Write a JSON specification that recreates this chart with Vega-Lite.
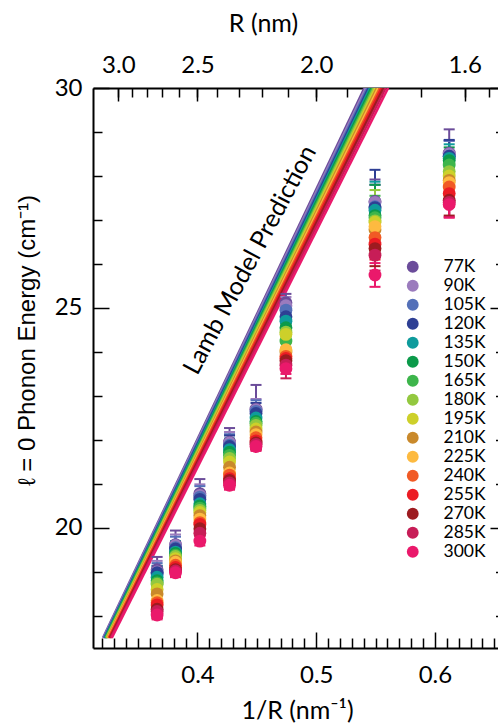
{
"$schema": "https://vega.github.io/schema/vega-lite/v6.json",
"autosize": "none",
"padding": {"left": 93, "top": 88, "right": 0, "bottom": 76},
"width": 405,
"height": 560,
"background": "white",
"config": {
  "view": {"stroke": null},
  "axis": {"grid": false, "tickColor": "black", "domainColor": "black", "labelColor": "black", "titleColor": "black", "tickWidth": 1.5, "domainWidth": 2, "labelFont": "Lato", "labelFontSize": 24, "titleFont": "Lato", "titleFontSize": 25, "titleFontWeight": "normal", "labelFlush": false, "labelOverlap": false},
  "legend": {"labelOffset": 22, "labelFont": "Lato", "labelFontSize": 17.5, "labelColor": "black"}
},
"datasets": {
  "lamb": [
    {"T": "77K", "x": 0.3205, "y": 17.5}, {"T": "77K", "x": 0.5406, "y": 30},
    {"T": "90K", "x": 0.3209, "y": 17.5}, {"T": "90K", "x": 0.5418, "y": 30},
    {"T": "105K", "x": 0.3213, "y": 17.5}, {"T": "105K", "x": 0.5430, "y": 30},
    {"T": "120K", "x": 0.3217, "y": 17.5}, {"T": "120K", "x": 0.5441, "y": 30},
    {"T": "135K", "x": 0.3221, "y": 17.5}, {"T": "135K", "x": 0.5453, "y": 30},
    {"T": "150K", "x": 0.3225, "y": 17.5}, {"T": "150K", "x": 0.5464, "y": 30},
    {"T": "165K", "x": 0.3229, "y": 17.5}, {"T": "165K", "x": 0.5476, "y": 30},
    {"T": "180K", "x": 0.3233, "y": 17.5}, {"T": "180K", "x": 0.5487, "y": 30},
    {"T": "195K", "x": 0.3237, "y": 17.5}, {"T": "195K", "x": 0.5499, "y": 30},
    {"T": "210K", "x": 0.3241, "y": 17.5}, {"T": "210K", "x": 0.5511, "y": 30},
    {"T": "225K", "x": 0.3246, "y": 17.5}, {"T": "225K", "x": 0.5523, "y": 30},
    {"T": "240K", "x": 0.3251, "y": 17.5}, {"T": "240K", "x": 0.5536, "y": 30},
    {"T": "255K", "x": 0.3257, "y": 17.5}, {"T": "255K", "x": 0.5550, "y": 30},
    {"T": "270K", "x": 0.3263, "y": 17.5}, {"T": "270K", "x": 0.5566, "y": 30},
    {"T": "285K", "x": 0.3270, "y": 17.5}, {"T": "285K", "x": 0.5585, "y": 30},
    {"T": "300K", "x": 0.3278, "y": 17.5}, {"T": "300K", "x": 0.5606, "y": 30}
  ],
  "pts": [
    {"x": 0.366, "T": "77K", "y": 19.05, "lo": 18.76, "hi": 19.34},
    {"x": 0.366, "T": "90K", "y": 19.00, "lo": 18.75, "hi": 19.25},
    {"x": 0.366, "T": "105K", "y": 18.95, "lo": 18.70, "hi": 19.20},
    {"x": 0.366, "T": "120K", "y": 18.98, "lo": 18.82, "hi": 19.14},
    {"x": 0.366, "T": "135K", "y": 18.88, "lo": 18.63, "hi": 19.13},
    {"x": 0.366, "T": "150K", "y": 18.80, "lo": 18.55, "hi": 19.05},
    {"x": 0.366, "T": "165K", "y": 18.75, "lo": 18.50, "hi": 19.00},
    {"x": 0.366, "T": "180K", "y": 18.72, "lo": 18.47, "hi": 18.97},
    {"x": 0.366, "T": "195K", "y": 18.60, "lo": 18.35, "hi": 18.85},
    {"x": 0.366, "T": "210K", "y": 18.50, "lo": 18.25, "hi": 18.75},
    {"x": 0.366, "T": "225K", "y": 18.35, "lo": 18.10, "hi": 18.60},
    {"x": 0.366, "T": "240K", "y": 18.30, "lo": 18.05, "hi": 18.55},
    {"x": 0.366, "T": "255K", "y": 18.25, "lo": 18.00, "hi": 18.50},
    {"x": 0.366, "T": "270K", "y": 18.15, "lo": 17.95, "hi": 18.35},
    {"x": 0.366, "T": "285K", "y": 18.10, "lo": 17.95, "hi": 18.25},
    {"x": 0.366, "T": "300K", "y": 18.02, "lo": 17.92, "hi": 18.12},

    {"x": 0.3815, "T": "77K", "y": 19.62, "lo": 19.30, "hi": 19.94},
    {"x": 0.3815, "T": "90K", "y": 19.60, "lo": 19.35, "hi": 19.85},
    {"x": 0.3815, "T": "105K", "y": 19.55, "lo": 19.30, "hi": 19.80},
    {"x": 0.3815, "T": "120K", "y": 19.52, "lo": 19.37, "hi": 19.67},
    {"x": 0.3815, "T": "135K", "y": 19.45, "lo": 19.20, "hi": 19.70},
    {"x": 0.3815, "T": "150K", "y": 19.42, "lo": 19.17, "hi": 19.67},
    {"x": 0.3815, "T": "165K", "y": 19.38, "lo": 19.13, "hi": 19.63},
    {"x": 0.3815, "T": "180K", "y": 19.35, "lo": 19.10, "hi": 19.60},
    {"x": 0.3815, "T": "195K", "y": 19.30, "lo": 19.05, "hi": 19.55},
    {"x": 0.3815, "T": "210K", "y": 19.25, "lo": 19.00, "hi": 19.50},
    {"x": 0.3815, "T": "225K", "y": 19.22, "lo": 18.97, "hi": 19.47},
    {"x": 0.3815, "T": "240K", "y": 19.15, "lo": 18.95, "hi": 19.35},
    {"x": 0.3815, "T": "255K", "y": 19.10, "lo": 18.92, "hi": 19.28},
    {"x": 0.3815, "T": "270K", "y": 19.05, "lo": 18.90, "hi": 19.20},
    {"x": 0.3815, "T": "285K", "y": 19.02, "lo": 18.90, "hi": 19.14},
    {"x": 0.3815, "T": "300K", "y": 18.98, "lo": 18.88, "hi": 19.08},

    {"x": 0.402, "T": "77K", "y": 20.78, "lo": 20.45, "hi": 21.11},
    {"x": 0.402, "T": "90K", "y": 20.74, "lo": 20.49, "hi": 20.99},
    {"x": 0.402, "T": "105K", "y": 20.70, "lo": 20.45, "hi": 20.95},
    {"x": 0.402, "T": "120K", "y": 20.65, "lo": 20.45, "hi": 20.82},
    {"x": 0.402, "T": "135K", "y": 20.55, "lo": 20.30, "hi": 20.80},
    {"x": 0.402, "T": "150K", "y": 20.50, "lo": 20.25, "hi": 20.75},
    {"x": 0.402, "T": "165K", "y": 20.45, "lo": 20.20, "hi": 20.70},
    {"x": 0.402, "T": "180K", "y": 20.40, "lo": 20.15, "hi": 20.65},
    {"x": 0.402, "T": "195K", "y": 20.35, "lo": 20.10, "hi": 20.60},
    {"x": 0.402, "T": "210K", "y": 20.28, "lo": 20.03, "hi": 20.53},
    {"x": 0.402, "T": "225K", "y": 20.20, "lo": 19.95, "hi": 20.45},
    {"x": 0.402, "T": "240K", "y": 20.12, "lo": 19.87, "hi": 20.37},
    {"x": 0.402, "T": "255K", "y": 20.08, "lo": 19.83, "hi": 20.33},
    {"x": 0.402, "T": "270K", "y": 19.98, "lo": 19.73, "hi": 20.23},
    {"x": 0.402, "T": "285K", "y": 19.88, "lo": 19.68, "hi": 20.08},
    {"x": 0.402, "T": "300K", "y": 19.70, "lo": 19.60, "hi": 19.80},

    {"x": 0.427, "T": "77K", "y": 21.95, "lo": 21.63, "hi": 22.27},
    {"x": 0.427, "T": "90K", "y": 21.93, "lo": 21.68, "hi": 22.18},
    {"x": 0.427, "T": "105K", "y": 21.88, "lo": 21.63, "hi": 22.13},
    {"x": 0.427, "T": "120K", "y": 21.85, "lo": 21.60, "hi": 22.10},
    {"x": 0.427, "T": "135K", "y": 21.78, "lo": 21.53, "hi": 22.03},
    {"x": 0.427, "T": "150K", "y": 21.72, "lo": 21.47, "hi": 21.97},
    {"x": 0.427, "T": "165K", "y": 21.65, "lo": 21.40, "hi": 21.90},
    {"x": 0.427, "T": "180K", "y": 21.58, "lo": 21.33, "hi": 21.83},
    {"x": 0.427, "T": "195K", "y": 21.50, "lo": 21.25, "hi": 21.75},
    {"x": 0.427, "T": "210K", "y": 21.38, "lo": 21.13, "hi": 21.63},
    {"x": 0.427, "T": "225K", "y": 21.25, "lo": 21.00, "hi": 21.50},
    {"x": 0.427, "T": "240K", "y": 21.20, "lo": 20.95, "hi": 21.45},
    {"x": 0.427, "T": "255K", "y": 21.12, "lo": 20.90, "hi": 21.34},
    {"x": 0.427, "T": "270K", "y": 21.08, "lo": 20.90, "hi": 21.26},
    {"x": 0.427, "T": "285K", "y": 21.02, "lo": 20.88, "hi": 21.16},
    {"x": 0.427, "T": "300K", "y": 20.97, "lo": 20.87, "hi": 21.07},

    {"x": 0.4493, "T": "77K", "y": 22.70, "lo": 22.15, "hi": 23.25},
    {"x": 0.4493, "T": "90K", "y": 22.68, "lo": 22.43, "hi": 22.93},
    {"x": 0.4493, "T": "105K", "y": 22.65, "lo": 22.40, "hi": 22.90},
    {"x": 0.4493, "T": "120K", "y": 22.60, "lo": 22.36, "hi": 22.84},
    {"x": 0.4493, "T": "135K", "y": 22.50, "lo": 22.25, "hi": 22.75},
    {"x": 0.4493, "T": "150K", "y": 22.42, "lo": 22.17, "hi": 22.67},
    {"x": 0.4493, "T": "165K", "y": 22.38, "lo": 22.13, "hi": 22.63},
    {"x": 0.4493, "T": "180K", "y": 22.33, "lo": 22.08, "hi": 22.58},
    {"x": 0.4493, "T": "195K", "y": 22.25, "lo": 22.00, "hi": 22.50},
    {"x": 0.4493, "T": "210K", "y": 22.18, "lo": 21.93, "hi": 22.43},
    {"x": 0.4493, "T": "225K", "y": 22.12, "lo": 21.87, "hi": 22.37},
    {"x": 0.4493, "T": "240K", "y": 22.05, "lo": 21.85, "hi": 22.25},
    {"x": 0.4493, "T": "255K", "y": 21.98, "lo": 21.80, "hi": 22.16},
    {"x": 0.4493, "T": "270K", "y": 21.93, "lo": 21.78, "hi": 22.08},
    {"x": 0.4493, "T": "285K", "y": 21.90, "lo": 21.78, "hi": 22.02},
    {"x": 0.4493, "T": "300K", "y": 21.85, "lo": 21.75, "hi": 21.95},

    {"x": 0.4745, "T": "77K", "y": 25.12, "lo": 24.92, "hi": 25.32},
    {"x": 0.4745, "T": "90K", "y": 25.05, "lo": 24.85, "hi": 25.25},
    {"x": 0.4745, "T": "105K", "y": 24.95, "lo": 24.75, "hi": 25.15},
    {"x": 0.4745, "T": "120K", "y": 24.80, "lo": 24.60, "hi": 25.00},
    {"x": 0.4745, "T": "135K", "y": 24.70, "lo": 24.50, "hi": 24.90},
    {"x": 0.4745, "T": "150K", "y": 24.55, "lo": 24.35, "hi": 24.75},
    {"x": 0.4745, "T": "165K", "y": 24.25, "lo": 24.05, "hi": 24.45},
    {"x": 0.4745, "T": "180K", "y": 24.45, "lo": 24.25, "hi": 24.65},
    {"x": 0.4745, "T": "195K", "y": 24.40, "lo": 24.20, "hi": 24.60},
    {"x": 0.4745, "T": "210K", "y": 24.00, "lo": 23.80, "hi": 24.20},
    {"x": 0.4745, "T": "225K", "y": 24.05, "lo": 23.85, "hi": 24.25},
    {"x": 0.4745, "T": "240K", "y": 23.90, "lo": 23.70, "hi": 24.10},
    {"x": 0.4745, "T": "255K", "y": 23.85, "lo": 23.65, "hi": 24.05},
    {"x": 0.4745, "T": "270K", "y": 23.80, "lo": 23.60, "hi": 24.00},
    {"x": 0.4745, "T": "285K", "y": 23.70, "lo": 23.40, "hi": 24.00},
    {"x": 0.4745, "T": "300K", "y": 23.62, "lo": 23.50, "hi": 23.74},

    {"x": 0.5495, "T": "77K", "y": 27.42, "lo": 26.92, "hi": 27.92},
    {"x": 0.5495, "T": "90K", "y": 27.40, "lo": 27.00, "hi": 27.80},
    {"x": 0.5495, "T": "105K", "y": 27.30, "lo": 26.80, "hi": 27.80},
    {"x": 0.5495, "T": "120K", "y": 27.28, "lo": 26.42, "hi": 28.14},
    {"x": 0.5495, "T": "135K", "y": 27.22, "lo": 26.57, "hi": 27.87},
    {"x": 0.5495, "T": "150K", "y": 27.10, "lo": 26.40, "hi": 27.80},
    {"x": 0.5495, "T": "165K", "y": 27.05, "lo": 26.55, "hi": 27.55},
    {"x": 0.5495, "T": "180K", "y": 26.98, "lo": 26.28, "hi": 27.68},
    {"x": 0.5495, "T": "195K", "y": 26.95, "lo": 26.65, "hi": 27.25},
    {"x": 0.5495, "T": "210K", "y": 26.78, "lo": 26.38, "hi": 27.18},
    {"x": 0.5495, "T": "225K", "y": 26.85, "lo": 26.40, "hi": 27.30},
    {"x": 0.5495, "T": "240K", "y": 26.60, "lo": 26.20, "hi": 27.00},
    {"x": 0.5495, "T": "255K", "y": 26.45, "lo": 26.10, "hi": 26.80},
    {"x": 0.5495, "T": "270K", "y": 26.35, "lo": 25.95, "hi": 26.75},
    {"x": 0.5495, "T": "285K", "y": 26.20, "lo": 25.85, "hi": 26.55},
    {"x": 0.5495, "T": "300K", "y": 25.75, "lo": 25.48, "hi": 26.02},

    {"x": 0.612, "T": "77K", "y": 28.52, "lo": 27.98, "hi": 29.06},
    {"x": 0.612, "T": "90K", "y": 28.50, "lo": 28.20, "hi": 28.80},
    {"x": 0.612, "T": "105K", "y": 28.45, "lo": 28.10, "hi": 28.80},
    {"x": 0.612, "T": "120K", "y": 28.45, "lo": 28.08, "hi": 28.82},
    {"x": 0.612, "T": "135K", "y": 28.40, "lo": 28.08, "hi": 28.72},
    {"x": 0.612, "T": "150K", "y": 28.35, "lo": 28.05, "hi": 28.65},
    {"x": 0.612, "T": "165K", "y": 28.25, "lo": 27.95, "hi": 28.55},
    {"x": 0.612, "T": "180K", "y": 28.10, "lo": 27.80, "hi": 28.40},
    {"x": 0.612, "T": "195K", "y": 28.00, "lo": 27.70, "hi": 28.30},
    {"x": 0.612, "T": "210K", "y": 27.90, "lo": 27.60, "hi": 28.20},
    {"x": 0.612, "T": "225K", "y": 27.85, "lo": 27.55, "hi": 28.15},
    {"x": 0.612, "T": "240K", "y": 27.75, "lo": 27.45, "hi": 28.05},
    {"x": 0.612, "T": "255K", "y": 27.60, "lo": 27.30, "hi": 27.90},
    {"x": 0.612, "T": "270K", "y": 27.45, "lo": 27.10, "hi": 27.80},
    {"x": 0.612, "T": "285K", "y": 27.40, "lo": 27.07, "hi": 27.73},
    {"x": 0.612, "T": "300K", "y": 27.35, "lo": 27.05, "hi": 27.65}
  ]
},
"resolve": {"axis": {"x": "independent", "y": "independent"}, "legend": {"color": "independent"}},
"layer": [
  {
    "data": {"name": "lamb"},
    "mark": {"type": "line", "strokeWidth": 2.5, "clip": true},
    "encoding": {
      "x": {"field": "x", "type": "quantitative", "scale": {"domain": [0.312, 0.6531], "nice": false, "zero": false},
            "axis": {"orient": "bottom", "values": [0.32,0.33,0.34,0.35,0.36,0.37,0.38,0.39,0.41,0.42,0.43,0.44,0.45,0.46,0.47,0.48,0.49,0.51,0.52,0.53,0.54,0.55,0.56,0.57,0.58,0.59,0.61,0.62,0.63,0.64,0.65], "labels": false, "domain": false, "tickSize": -10, "title": null}},
      "y": {"field": "y", "type": "quantitative", "scale": {"domain": [17.27, 30], "nice": false, "zero": false},
            "axis": {"orient": "left", "values": [18,19,21,22,23,24,26,27,28,29], "labels": false, "domain": false, "tickSize": -9, "title": null}},
      "color": {"field": "T", "type": "nominal", "legend": null,
                "scale": {"domain": ["77K","90K","105K","120K","135K","150K","165K","180K","195K","210K","225K","240K","255K","270K","285K","300K"],
                          "range": ["#6b4c9a","#9b7bbd","#5470b8","#2e3f94","#0e9b9c","#0b9a4a","#3db54b","#93c83f","#cdd02a","#c9892b","#fdba40","#f15a25","#ec1c24","#9d1b20","#c71d57","#ea196b"]}}
    }
  },
  {
    "data": {"values": [{"label": "Lamb Model Prediction"}]},
    "mark": {"type": "text", "angle": 298, "font": "Lato", "fontSize": 25, "align": "center", "baseline": "middle", "fill": "black"},
    "encoding": {
      "x": {"datum": 0.4442, "type": "quantitative", "axis": null},
      "y": {"datum": 26.09, "type": "quantitative", "axis": null},
      "text": {"field": "label", "type": "nominal"}
    }
  },
  {
    "data": {"name": "pts"},
    "mark": {"type": "rule", "strokeWidth": 2},
    "encoding": {
      "x": {"field": "x", "type": "quantitative",
            "axis": {"orient": "bottom", "values": [0.4, 0.5, 0.6], "tickSize": -16, "labelPadding": 50, "labelBaseline": "alphabetic", "domain": true, "title": "1/R (nm⁻¹)", "titleX": 204, "titleY": 70, "titleAlign": "center", "titleBaseline": "alphabetic"}},
      "y": {"field": "lo", "type": "quantitative",
            "axis": {"orient": "left", "values": [20, 25, 30], "tickSize": -16, "labelPadding": 27, "domain": true, "title": "ℓ = 0 Phonon Energy (cm⁻¹)", "titleFont": "Liberation Sans", "titleFontSize": 24, "titleAngle": 270, "titleX": -66, "titleY": 252, "titleAlign": "center", "titleBaseline": "middle"}},
      "y2": {"field": "hi"},
      "color": {"field": "T", "type": "nominal", "legend": null}
    }
  },
  {
    "data": {"name": "pts"},
    "mark": {"type": "tick", "orient": "horizontal", "size": 11, "thickness": 2, "opacity": 1},
    "encoding": {
      "x": {"field": "x", "type": "quantitative",
            "axis": {"orient": "top", "values": [0.33333, 0.34483, 0.35714, 0.37037, 0.38462, 0.4, 0.41667, 0.43478, 0.45455, 0.47619, 0.5, 0.52632, 0.55556, 0.58824, 0.625, 0.64516], "labels": false, "domain": false, "tickSize": -9, "title": null}},
      "y": {"field": "hi", "type": "quantitative",
            "axis": {"orient": "right", "values": [18,19,21,22,23,24,26,27,28,29], "labels": false, "domain": false, "tickSize": -2.5, "title": null}},
      "color": {"field": "T", "type": "nominal", "legend": null}
    }
  },
  {
    "data": {"name": "pts"},
    "mark": {"type": "tick", "orient": "horizontal", "size": 11, "thickness": 2, "opacity": 1},
    "encoding": {
      "x": {"field": "x", "type": "quantitative",
            "axis": {"orient": "top", "values": [0.3333333, 0.4, 0.5, 0.625], "labelExpr": "format(1/datum.value, '.1f')", "tickSize": -13, "labelPadding": 29, "labelBaseline": "alphabetic", "domain": true, "title": "R (nm)", "titleX": 170, "titleY": -57, "titleAlign": "center", "titleBaseline": "alphabetic"}},
      "y": {"field": "lo", "type": "quantitative",
            "axis": {"orient": "right", "values": [20, 25, 30], "labels": false, "domain": false, "tickSize": -8, "title": null}},
      "color": {"field": "T", "type": "nominal", "legend": null}
    }
  },
  {
    "data": {"name": "pts"},
    "mark": {"type": "circle", "size": 165, "opacity": 1},
    "encoding": {
      "x": {"field": "x", "type": "quantitative", "axis": null},
      "y": {"field": "y", "type": "quantitative", "axis": null},
      "color": {"field": "T", "type": "nominal",
                "legend": {"orient": "none", "legendX": 311, "legendY": 170, "title": null, "padding": 0, "labelFont": "Lato", "labelFontSize": 17.5, "labelColor": "black", "labelOffset": 22, "rowPadding": 0, "clipHeight": 17.5, "symbolSize": 140, "symbolType": "circle", "symbolStrokeWidth": 0}}
    }
  }
]
}
